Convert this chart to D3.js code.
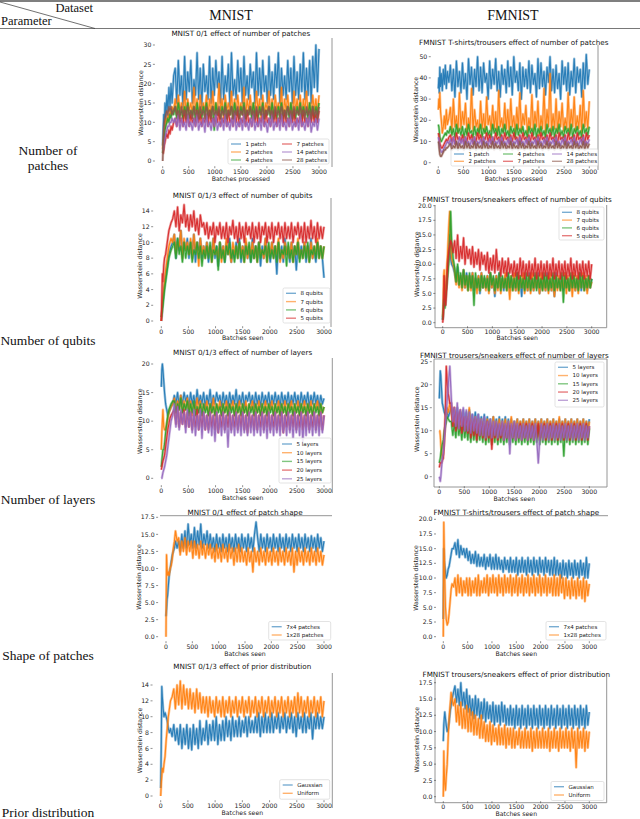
<!DOCTYPE html>
<html><head><meta charset="utf-8">
<script src="https://cdn.jsdelivr.net/npm/d3@7"></script>
<style>body{margin:0;background:#fff}svg{display:block}</style>
</head><body>
<svg id="c" width="640" height="819"></svg>
<script>
// ---------- DATA ----------
const batches = [0,10,20,30,45,60,80,100,120,140,160,180,210,
 240,270,300,330,360,390,420,450,480,510,
 540,570,600,630,660,690,720,750,780,810,
 840,870,900,930,960,990,1020,1050,1080,1110,
 1140,1170,1200,1230,1260,1290,1320,1350,1380,1410,
 1440,1470,1500,1530,1560,1590,1620,1650,1680,1710,
 1740,1770,1800,1830,1860,1890,1920,1950,1980,2010,
 2040,2070,2100,2130,2160,2190,2220,2250,2280,2310,
 2340,2370,2400,2430,2460,2490,2520,2550,2580,2610,
 2640,2670,2700,2730,2760,2790,2820,2850,2880,2910,
 2940,2970,3000];
const xTicks = [0,500,1000,1500,2000,2500,3000];
const datasets = ["MNIST","FMNIST"];
const parameters = [["Number of","patches"],["Number of qubits"],["Number of layers"],["Shape of patches"],["Prior distribution"]];
const titles = [
 "MNIST 0/1 effect of number of patches","FMNIST T-shirts/trousers effect of number of patches",
 "MNIST 0/1/3 effect of number of qubits","FMNIST trousers/sneakers effect of number of qubits",
 "MNIST 0/1/3 effect of number of layers","FMNIST trousers/sneakers effect of number of layers",
 "MNIST 0/1 effect of patch shape","FMNIST T-shirts/trousers effect of patch shape",
 "MNIST 0/1/3 effect of prior distribution","FMNIST trousers/sneakers effect of prior distribution"];
const xLabels = ["Batches processed","Batches processed","Batches seen","Batches seen","Batches seen","Batches seen","Batches seen","Batches seen","Batches seen","Batches seen"];
const yLabel = "Wasserstein distance";
const patchLabels = ["1 patch","2 patches","4 patches","7 patches","14 patches","28 patches"];
const qubitLabels = ["8 qubits","7 qubits","6 qubits","5 qubits"];
const layerLabels = ["5 layers","10 layers","15 layers","20 layers","25 layers"];
const shapeLabels = ["7x4 patches","1x28 patches"];
const priorLabels = ["Gaussian","Uniform"];
const yTicksA = [0,5,10,15,20,25,30];
const yTicksB = [0,10,20,30,40,50];
const yTicksC = [0,2,4,6,8,10,12,14];
const yTicksD = [0,2.5,5,7.5,10,12.5,15,17.5,20];
const yTicksE = [0,5,10,15,20];
const yTicksF = [0,5,10,15,20,25];
const yTicksG = [0,2.5,5,7.5,10,12.5,15,17.5];
const yTicksH = [0,2.5,5,7.5,10,12.5,15,17.5,20];
const yTicksI = [0,2,4,6,8,10,12,14];
const yTicksJ = [0,2.5,5,7.5,10,12.5,15,17.5];

// MNIST: number of patches
const mP1 = [4,8,12,9,15,11,17,13,19,14,20,15,22,
 24,15,26,17,22,14,27,16,23,18, 26,15,21,17,28,16,24,14,25,18, 22,16,27,15,24,17,26,19,23,15,
 27,16,22,18,25,14,28,17,21,16, 26,18,24,15,27,17,22,16,25,19, 23,15,28,17,24,16,26,18,22,15,
 27,17,23,16,25,19,28,15,24,17, 22,16,26,18,24,15,27,17,23,16, 25,18,28,16,24,17,26,15,27,19, 30,18,29];
const mP2 = [3,5,6,8,9,11,10,12,11,13,12,14,13,
 16,12,17,13,15,11,18,12,16,13, 15,12,19,13,16,11,17,12,15,13, 17,12,16,11,18,13,15,12,20,13,
 16,11,17,13,15,12,18,11,16,12, 17,13,15,12,19,11,16,13,17,12, 15,12,18,13,16,11,17,12,15,13,
 18,12,16,11,17,13,15,12,19,11, 16,13,17,12,15,11,18,13,16,12, 17,11,16,13,18,12,15,11,17,13, 16,12,17];
const mP4 = [2,3,5,6,8,9,10,11,10,12,11,13,12,
 14,11,15,12,13,11,14,12,15,11, 13,12,14,10,15,12,13,11,14,12, 15,11,13,12,14,8,15,12,13,11,
 14,12,15,11,13,12,14,11,15,12, 13,11,14,12,15,11,13,12,14,11, 15,12,13,11,14,12,15,11,13,12,
 14,11,15,12,13,11,14,12,15,11, 13,12,14,11,15,12,13,11,14,12, 15,11,14,12,13,11,15,12,14,11, 14,12,15];
const mP7 = [2,2,3,4,5,6,7,6,8,7,9,8,10,
 11,9,12,10,11,9,13,10,12,9, 12,10,11,9,13,10,12,9,11,10, 12,9,13,10,11,9,12,10,13,9,
 11,10,12,9,13,10,11,9,12,10, 13,9,11,10,12,9,13,10,11,9, 12,10,13,9,11,10,12,9,13,10,
 11,9,12,10,13,9,11,10,12,9, 13,10,11,9,12,10,13,9,11,10, 12,9,13,10,11,9,12,10,13,10, 12,10,13];
const mP14 = [3,3,4,5,6,7,8,9,9,10,10,11,10,
 11,9,12,8,11,9,10,8,12,9, 10,8,11,9,12,8,10,9,11,7.5, 12,9,10,8,11,9,12,8,10,9,
 11,8,12,9,10,8,11,9,12.5,8, 10,9,11,8,12,9,10,8,11,9, 12,8,10,9,11,8,12,9,10,7.5,
 11,9,12,8,10,9,11,8,12,9, 10,8,11,9,12,8,10,9,11,8, 12,9,10,8,11,9,12,7.5,10,9, 11,8,11];
const mP28 = [0,4,8,10,11,12,13,12,14,13,14,12,13,
 14,12,13,11,14,12,13,11,14,12, 13,11,14,12,13,11,14,12,13,11, 14,12,13,11,14,12,13,12,14,11,
 13,12,14,11,13,12,14,11,13,12, 14,11,13,12,14,11,13,12,14,12, 13,11,14,12,13,12,14,11,13,12,
 14,12,13,11,14,12,13,11,14,12, 13,11,14,12,13,11,14,12,13,12, 14,12,13,11,14,12,13,11,14,12, 13,11,14];
// FMNIST: number of patches
const fP1 = [35,40,33,45,36,42,34,44,37,46,35,43,38,
 46,34,44,31,48,36,43,33,47,35, 42,30,49,37,45,32,44,36,50,34, 45,33,47,38,42,30,48,35,44,37,
 49,34,43,31,46,37,44,33,48,36, 45,32,50,38,43,34,47,30,45,36, 44,35,48,33,46,37,42,31,49,35,
 47,36,43,32,45,38,50,34,44,33, 46,35,42,30,48,37,45,34,47,32, 43,36,49,33,45,38,44,31,47,35, 51,37,44];
const fP2 = [25,30,26,33,24,20,14,17,22,16,25,18,21,
 26,15,30,17,22,14,33,16,24,18, 28,14,21,16,35,15,25,17,20,13, 29,16,23,14,31,18,22,15,27,16,
 24,13,34,17,21,15,28,16,25,14, 30,17,22,14,26,16,33,15,23,18, 27,14,21,16,32,15,24,17,29,13,
 22,16,35,14,25,17,42,15,23,16, 30,14,24,17,28,15,21,16,33,14, 25,17,31,15,22,16,27,14,34,17, 24,16,29];
const fP4 = [18,17,15,12,11,10,11,12,13,14,13,15,14,
 17,13,16,12,18,14,16,13,17,12, 16,13,18,14,15,12,17,13,16,14, 18,12,16,14,17,13,15,12,18,14,
 16,13,17,12,16,14,18,13,15,12, 17,14,16,12,18,13,16,14,17,13, 15,12,17,14,16,13,18,12,16,14,
 17,13,15,12,18,14,16,13,17,12, 16,14,18,13,15,12,17,14,16,13, 18,12,16,14,17,13,15,12,18,14, 16,13,17];
const fP7 = [14,13,11,9,8,7,7,8,9,10,11,10,12,
 13,10,12,9,14,11,12,10,13,9, 12,10,14,11,13,9,12,10,14,11, 13,9,12,11,14,10,13,9,12,10,
 14,11,12,9,13,10,14,11,12,9, 13,10,14,11,12,9,13,10,14,11, 12,9,13,10,14,11,12,9,13,10,
 14,11,12,9,13,10,14,11,12,10, 13,9,14,11,12,10,13,9,14,11, 12,10,13,9,14,11,12,10,13,9, 14,11,13];
const fP14 = [12,11,9,7,6,5,5,6,7,8,9,10,9,
 11,8,12,9,10,8,12,9,11,8, 12,9,10,8,11,9,12,8,10,9, 11,8,12,9,10,8,11,9,12,8,
 10,9,11,8,12,9,10,8,11,9, 12,8,10,9,11,8,12,9,10,8, 11,9,12,8,10,9,11,8,12,9,
 10,8,11,9,12,8,10,9,11,8, 12,9,10,8,11,9,12,8,10,9, 11,8,12,9,10,8,11,9,12,8, 10,9,11];
const fP28 = [10,9,6,4,3,3,4,5,6,6,7,7,8,
 9,6,8,7,10,6,9,7,8,6, 10,7,9,6,8,7,10,6,9,7, 8,6,10,7,9,6,8,7,10,6,
 9,7,8,6,10,7,9,6,8,7, 10,6,9,7,8,6,10,7,9,6, 8,7,10,6,9,7,8,6,10,7,
 9,6,8,7,10,6,9,7,8,6, 10,7,9,6,8,7,10,6,9,7, 8,6,10,7,9,6,8,7,10,6, 9,7,9];
// MNIST: number of qubits
const mQ8 = [0,0.5,1.5,2.5,3.5,4.5,5.5,6.5,7.5,8.5,9,9.5,10,
 11,8,10.5,9,11.5,8.5,10,9,10.5,8, 10,8.5,11,7.5,10,9,10.5,8,9.5,8.5, 10,7.5,9.5,8.5,10.5,8,9.5,7,10,8.5,
 9.5,7.5,10,8.5,10.5,7.5,9,8,10,8.5, 10.5,7.5,9.5,8.5,10,8,9,7.5,10.5,8, 9.5,8.5,10,7,9.5,8,10.5,8.5,9,7.5,
 10,8.5,9.5,6,10,8,9.5,7.5,10.5,8.5, 9,7.5,10,8.5,9.5,6.5,10,8,9.5,8.5, 10,7.5,9.5,8.5,10.5,8,9,7.5,10,8.5, 9.5,8,5.5];
const mQ7 = [0,1,2,3,4,5,6.5,7.5,8.5,9.5,10,10.5,10,
 11,8.5,10,9.5,11.5,8,10.5,9,10,8.5, 10.5,8,11,9,10,7,10.5,8.5,9.5,8, 10,8.5,9.5,7.5,10.5,8.5,9,8,10,7.5,
 9.5,8,10.5,8.5,9,7.5,10,8.5,9.5,8, 10,8.5,9.5,7.5,10.5,8,9.5,8.5,10,8, 9.5,7.5,10,8.5,9,8,10.5,7.5,9.5,8.5,
 10,8,9.5,8.5,10.5,7.5,9,8,10,8.5, 9.5,8,10,7.5,9.5,8.5,10.5,8,9,8, 10,8.5,9.5,7.5,10,8,9.5,8.5,10.5,8, 9.5,8,9.5];
const mQ6 = [0.5,1,1.5,2,3,4,5,6,7,8,8.5,9,9.5,
 10,8,10.5,8.5,9.5,7.5,10,8,9.5,8.5, 10,7.5,9,8.5,10,8,9.5,7,9,8, 9.5,8,10,7.5,9,8.5,9.5,6.5,10,8,
 9,7.5,9.5,8.5,10,8,9,7.5,9.5,8, 10,8,9,7.5,9.5,8.5,10,7.5,9,8, 9.5,7.5,10,8,9,8.5,9.5,7.5,10,8,
 9,8,9.5,7.5,10,8,9,8.5,9.5,7, 10,8,9,7.5,9.5,8.5,10,7.5,9,8, 9.5,8,10,7.5,9,8.5,9.5,8,10,8, 9.5,8,9.5];
const mQ5 = [0,3,6,5,7,8,8.5,9.5,10.5,11.5,12,12.5,13,
 14,12,14.5,11.5,13.5,12.5,14.8,12,13.5,11.5, 13.5,12,14,11.5,13,11,13.5,12,12.5,11, 12.5,10.5,12,11,12.5,10,12,11,12.5,10.5,
 12,10.5,12.5,10,12,11,12.8,10.5,12,10, 12.5,10.5,12,10,12.5,11,12,10.5,12.5,10, 12,10.5,12.5,10,12,11,12.5,10,12,10.5,
 12.5,10,12,11,12.5,10.5,12,10,12.5,10.5, 12,10.5,12.5,10,12,11,12.5,10.5,12,10, 12.5,10,12,10.5,12.8,10.5,12,10,12.5,10.5, 12,10.5,12];
// FMNIST: number of qubits
const fQ8 = [0.5,2,4,6,3,5,7,9,12,15,11,10,9.5,
 8.5,7,9.5,6.5,8,7,9,6,8.5,6.5, 8,6,8.5,5.5,7.5,6,8,5,8.5,6, 7.5,6,8,5.5,8.5,6,7.5,4.5,8,6,
 8.5,6,7.5,5.5,8,6,8.5,5.5,7.5,6, 8,5.5,8.5,6,7.5,4.5,8,6,7.5,5.5, 8.5,6,7.5,5.5,8,6,8.5,5,7.5,6,
 8,5.5,8.5,6,7.5,5.5,8,4.5,8.5,6, 7.5,6,8,5.5,8.5,6,7.5,5.5,8,6, 8,5.5,7.5,6,8.5,5.5,8,6,7.5,5.5, 8,6,7.5];
const fQ7 = [1,3,8,9,4,6,9,12,16,19,13,11,10,
 9,6.5,8.5,6,8,5.5,9,6,8,5.5, 8,5.5,8.5,6,7.5,5,8,5.5,8.5,6, 7.5,5.5,8,5,8.5,6,7.5,5,8,5.5,
 8,5,7.5,6,8.5,5.5,7.5,4,8,5.5, 8.5,5.5,7.5,5,8,6,8.5,5,7.5,5.5, 8,5,8.5,5.5,7.5,6,8,5,8.5,5.5,
 7.5,5.5,8,5,8.5,5.5,7.5,4.5,8,5.5, 8,5.5,7.5,6,8.5,5,8,5.5,7.5,4.5, 8.5,5.5,8,5,7.5,6,8.5,5.5,8,5, 8,6,7];
const fQ6 = [0.5,1.5,3,4,2.5,4,6,8,10,13,19,14,11,
 9.5,7,10,6.5,8.5,6,9,6.5,8,5.5, 8.5,6,8,3,8.5,6,7.5,5.5,8,6, 8,6,7.5,5.5,8.5,6.5,8,5.5,7.5,6,
 8.5,5.5,8,6,7.5,5.5,8.5,6,8,5.5, 7.5,6,8.5,5.5,8,6,7.5,5.5,8.5,6, 8,5.5,7.5,6,8.5,5.5,8,6,7.5,5.5,
 8.5,6,8,5.5,7.5,6,8.5,5.5,8,6, 7.5,5.5,8.5,3.5,8,6,7.5,5.5,8.5,6, 8,6,7.5,5.5,8.5,6,8,5.5,7.5,6, 8,6,7.5];
const fQ5 = [0,1,3,8,4,3,6,10,12,13,14,13.5,12,
 14,11,15,10.5,13,11,14.5,10,13,11, 12.5,10,13,9.5,12,10,12.5,9,12,10, 11.5,9,12,8.5,11,9,11.5,8.5,12.5,9,
 10.5,8,11,8.5,10.5,8,11,8.5,10,8, 10.5,8,10,7.5,11,8,10.5,7.5,10,8, 10.5,7.5,10,8,11,7.5,10,8,10.5,7.5,
 10,8,10.5,7.5,10,8,11,7.5,10,8, 10.5,7.5,10,8,10.5,7.5,10,8,11,7.5, 10,8,10.5,7.5,10,8,10.5,7.5,10,8, 10.5,7.5,10];
// MNIST: number of layers
const mL5 = [16,19,20,19,17,15,13,12,11,11.5,12,12.5,13,
 14.5,13,15,12.5,14.5,13,15,13.5,14.5,12.5, 15,13,14.5,12.5,15.5,13,14.5,13,15,12.5, 14.5,13,15.5,12.5,14.5,13,15,13.5,14.5,12.5,
 15,13,14.5,12.5,15,13,14.5,13,15.5,12.5, 14.5,13,15,12.5,14.5,13.5,15,13,14.5,12.5, 15,13,14.5,12.5,15,13,14.5,13,15,12.5,
 14.5,13,15,13,14.5,12.5,15,13,14.5,13, 15,12.5,14.5,13,15,13,14.5,12.5,15,13, 14.5,13,15,12.5,14.5,13,15,13,14.5,12.5, 14.5,13,14];
const mL10 = [5,8,10,12,9,8.5,8.5,9.5,10.5,11.5,12,12.5,13,
 14,11.5,13.5,12,14.5,11.5,13.5,12,14,11.5, 13.5,11,13,12,14,11.5,13.5,11,13,12, 13.5,11,13,11.5,14,11,13,12,13.5,11,
 13,11.5,13.5,11,13,12,13.5,11,13,11.5, 13.5,11,13,11.5,13.5,11,13,12,13.5,11, 13,11.5,13.5,11,13,11.5,13.5,11,13,12,
 13.5,11,13,11.5,13.5,11,13,11.5,13.5,11, 13,12,13.5,11,13,11.5,13.5,11,13,11.5, 13.5,11,13,11.5,13.5,11,13,12,13.5,11, 13,11.5,12.5];
const mL15 = [2,3,4,5,5,6,8,9.5,11,12,12.5,13,13.5,
 13.5,11.5,13,12,14,11.5,13,12,13.5,11, 13,11.5,13.5,11,12.5,11.5,13,11,13,11.5, 12.5,11,13,11.5,12.5,11,13,11.5,12.5,11,
 13,11.5,12.5,11,13,11.5,12.5,11,13,11.5, 12.5,11,13,11.5,12.5,11,13,11.5,12.5,11, 13,11.5,12.5,11,13,11.5,12.5,11,13,11.5,
 12.5,11,13,11.5,12.5,11,13,11.5,12.5,11, 13,11.5,12.5,11,13,11.5,12.5,11,13,11.5, 12.5,11,13,11.5,12.5,11,13,11.5,12.5,11, 13,11.5,12.5];
const mL20 = [1.5,2,2.5,3,3.5,4,5.5,7,8.5,9.5,10.5,11,11.5,
 12,9.5,12.5,9,11.5,9.5,12,9,11.5,9, 11.5,8.5,11,9,12,8.5,11,9,11.5,8.5, 11,8.5,11.5,9,11,8.5,11.5,8,11,9,
 11.5,8.5,11,9,11.5,8.5,11,9,11.5,8.5, 11,9,11.5,8.5,11,8,11.5,9,11,8.5, 11.5,8.5,11,9,11.5,8.5,11,9,11.5,8.5,
 11,9,11.5,8.5,11,9,11.5,8,11,9, 11.5,8.5,11,9,11.5,8.5,11,9,11.5,8.5, 11,9,11.5,8.5,11,9,11.5,8.5,11,9, 11.5,8.5,11];
const mL25 = [0,0,0.5,1,1.5,2,3,4,5.5,7,8.5,10,11,
 13,9,12.5,8.5,12,9.5,11.5,8,12,9, 11.5,8,12,7.5,11,8.5,12,7,11.5,8.5, 11,8,11.5,7.5,11,6.5,11.5,8,11,7.5,
 11.5,8,11,5.5,11.5,8,11,7.5,11.5,8, 11,7.5,11.5,8,11,7.5,11.5,8,11,7.5, 11.5,8,11,7.5,11.5,8,11,7,11.5,8,
 11,7.5,11.5,8,11,7.5,11.5,8,11,7.5, 11.5,8,11,7,11.5,8,11,7.5,11.5,6.5, 11,7.5,11.5,8,11,7.5,11.5,8,11,7.5, 11.5,8,11];
// FMNIST: number of layers
const fL5 = [17,20,23,22,19,16,15,14,13.5,13,14,13,14,
 15,12,14.5,12,15,11.5,14,12,14.5,11.5, 14,11.5,14.5,11,13.5,11.5,14,11,13.5,11, 13,10.5,13.5,10,13,10.5,12.5,10,13,10.5,
 12.5,10,13,9.5,12.5,10,13,9.5,12.5,10, 12.5,9.5,12,10,12.5,9.5,12,10,12.5,9.5, 12,10,12.5,9.5,12,10,12.5,9.5,12,10,
 12.5,9.5,12,10,12.5,9.5,12,10,12.5,9.5, 12,10,12.5,9.5,12,10,12.5,9.5,12,10, 12.5,9.5,12,10,12.5,9.5,12,10,12.5,9.5, 12,10,12.5];
const fL10 = [10,10,9,7,5,4,5,8,11,13,15,14,16,
 14,11,15,10.5,13.5,11,14,10,13,10.5, 13,10,15,9.5,12.5,10,13,9.5,12.5,9, 12.5,9,12,9.5,12.5,9,12,9,13,9.5,
 12,9,12.5,8.5,12,9,12.5,8.5,12,9, 13,8.5,12,9,12.5,8.5,12,9,12.5,8.5, 12,9,12.5,8.5,12,9,12.5,8.5,12,9,
 12.5,8.5,12,9,12.5,8.5,12,9,12.5,8.5, 12,9,13,8.5,12,9,12.5,8.5,12,9, 12.5,8.5,12,9,12.5,8.5,12,9,12.5,8.5, 12,9,12];
const fL15 = [3,3.5,4,5,6,7,8,10,11,12,13,12.5,12,
 12,9,11.5,8.5,12,9,11,8,11.5,8.5, 11,8,11.5,7.5,11,8,10.5,7.5,11,8, 10.5,7.5,11,7,10.5,7.5,11,7,10.5,7.5,
 11,7,10.5,7.5,11,7,10.5,7.5,11,7, 10.5,7.5,11,7,10.5,7.5,11,7,10.5,7.5, 11,7,10.5,7.5,11,7,10.5,7.5,11,7,
 10.5,7.5,11,7,10.5,7.5,11,7,10.5,7.5, 11,7,10.5,7.5,11,4.5,10.5,7.5,11,7, 10.5,7.5,11,7,10.5,7.5,11,7,10.5,7.5, 11,7,10.5];
const fL20 = [2,2.5,3,3,3,3.5,4,8,14,24,20,18,16,
 16,11,15,10,14,10.5,14.5,9.5,13,10, 13,9.5,12.5,8.5,12,9,12.5,8,11.5,9, 12,8.5,11.5,8,12,8.5,11.5,6,11,8.5,
 11.5,8,11,8.5,11.5,8,11,8.5,11.5,8, 11,8.5,11.5,8,11,8.5,11.5,8,11,8.5, 11.5,8,11,8.5,11.5,8,11,8.5,11.5,8,
 11,8.5,11.5,8,11,8.5,11.5,8,11,8.5, 11.5,8,11,8.5,11.5,8,11,8.5,11.5,8, 11,8.5,11.5,8,11,8.5,11.5,8,11,8.5, 11.5,8,11];
const fL25 = [0,-0.5,-1,0,2,4,5,8,11,14,17,20,24,
 17,12,15,11,16,10.5,14.5,11,15,10, 14.5,10,14,9.5,13.5,10,13,9.5,13.5,9, 12.5,9,13,8.5,12,9,12.5,8.5,12,9,
 12,8.5,11.5,9,12,8,11.5,8.5,12,5, 11.5,8.5,12,8,11.5,8.5,11,8,11.5,8.5, 11,8,11.5,8.5,11,8,11.5,8,3,8.5,
 11.5,8,11,8.5,11.5,8,11,8.5,11.5,8, 11,8.5,11.5,8,11,8.5,11.5,8,11,8.5, 11.5,8,11,8.5,11.5,8,11,8.5,11.5,8, 11,8.5,11];
// MNIST: patch shape
const mS74 = [3,4,5.5,6,7.5,9,10,11,12,12.5,13,14,13,
 14,12.5,15,13,15.5,13,16.5,13.5,15,13, 16,13,15.5,13.5,16.5,13,15,13.5,15.5,13, 15,13,14.5,12.5,15,13,14.5,12.5,15,13,
 14.5,12.5,15,13,14.5,12.5,15,13,14.5,12.5, 15,13,14.5,12.5,15,13,14.5,12.5,15,16.8, 14.5,12.5,15,13,14.5,12.5,15,13,14.5,12.5,
 15,13,14.5,12.5,15,13,14.5,12.5,15,13, 14.5,12.5,15,13,14.5,12.5,15,13,14.5,12.5, 15,13,14.5,12.5,14.8,13,14.5,12.5,15,13, 14.5,12.5,14];
const mS128 = [0,12,10,9,9.5,9,10,10.5,11.5,13,14,15.5,14,
 14.5,12,14,12.5,14.5,12,14,12.5,14,11.5, 14,12,13.5,11.5,14,12,13.5,11.5,13.5,12, 13.5,11.5,13,11,13.5,11.5,13,11,13.5,11.5,
 13,11,13.5,11.5,13,10.5,13,11,13.5,11, 13,11,12.5,10.5,13,11,12.5,9.5,13,11, 12.5,10.5,13,11,12.5,10.5,13,11,12.5,10.5,
 13,11,12.5,10.5,13,11,12.5,10.5,13,11, 12.5,10.5,13,9.5,12.5,10.5,13,11,12.5,10.5, 13,11,12.5,10.5,13,11,12.5,10.5,13,11, 12.5,10.5,12];
// FMNIST: patch shape
const fS74 = [3,15,13,12,11,10,10.5,11.5,12,13,14,15,15,
 16,14,16.5,13.5,15.5,14,15,13.5,15,13, 14.5,12.5,14,12.5,14.5,12,14,12,13.5,12, 14,11.5,13.5,12,14,11.5,13.5,11.5,14,11.5,
 13.5,11.5,13,11,13.5,11.5,13,11,13.5,11, 13,11,13.5,10.5,13,11,13.5,11,13,10.5, 13.5,11,13,10.5,13.5,11,13,10.5,13.5,11,
 13,10.5,13.5,11,13,10.5,13,10.5,13.5,10.5, 13,10.5,12.5,10,13,10.5,12.5,10,13,10.5, 12.5,10,13,10.5,12.5,10,13,10.5,12.5,10, 13.5,10,12.5];
const fS128 = [0,19.5,15,10,5,3,2,2.5,4,6,8,9,8.5,
 10,7,10.5,7.5,10,7,9.5,7.5,10,7, 10,7,9.5,7.5,10,7,10.5,7,9.5,7.5, 10,7.5,10.5,7,10,7.5,10.5,7.5,10,7,
 10.5,7.5,10,7,10.5,7.5,10,7.5,10.5,7, 10,7.5,10.5,7,10,7.5,10.5,7,10,7.5, 10.5,7,10,7.5,10.5,7,10,7.5,10.5,7,
 10,7.5,10.5,7,10,7.5,10,7,10.5,7, 10,7,10.5,7.5,10,6.5,10,7,9.5,6.5, 10,7,9.5,6.5,10,7,9.5,6.5,10,6, 9.5,7,9];
// MNIST: prior distribution
const mGau = [1,6,13.8,12.5,11,10,10.5,10,9.5,8.5,8,8.5,7.5,
 9,7,8.5,6.5,9,6,8.5,6.5,9,6, 8.5,5.8,9,6.5,8.5,6,9.5,6.5,8.5,7, 9.5,6.5,9,7,9.5,7,10,6.5,9,7,
 9.5,7,10,7.5,9.5,7,10,7.5,9.5,7.5, 10,7.5,9.5,8,10,7.5,10,8,9.5,8, 10,8,10.5,7.5,10,8,10.5,8,10,8,
 10.5,8,10,8.5,10.5,8,10,8.5,10.5,8, 10,8.5,10.5,8,10,7.5,10.5,8.5,10,8, 10.5,8,10,8.5,10.5,7.2,10,8.5,10.5,8.5, 10,8.5,10];
const mUni = [0,1.5,2.5,3.5,3,4,5,7,8.5,10,11,12,12.5,
 13.5,11,14,11.5,14.5,11,14,11.5,13.5,11, 13.5,11,13,10.5,13.5,11,13,10.5,12.5,10.5, 12.5,10,12.5,10.5,12,10,12.5,10.5,12,10,
 12.5,10,12,10.5,12.5,10,12,10.5,12.5,10, 12,10.5,12.5,10,12,10.5,12.5,10,12,10.5, 12.5,10,12,10.5,12.5,10,12,10.5,12.5,10,
 12,10.5,12.5,10,12,10.5,12.5,10,12,10.5, 12.5,10,12,10.5,12.5,10,13,10.5,12.5,10, 12,10.5,12.5,10,12,10.5,12.5,10,12,10.5, 12.5,10,12];
// FMNIST: prior distribution
const fGau = [8.5,11,12,13,12,11,10,10.5,11.5,13,14,15,16,
 17,14.5,16.5,14,17.5,14,16,13.5,16.5,13, 15.5,12.5,15,12,15.5,12.5,15,12,14.5,12, 15,11.5,14.5,12,14,11.5,14.5,11,14,11.5,
 14,11,14.5,11.5,14,11,13.5,11,14,11, 13.5,10.5,14,11,13.5,10.5,14,11,13.5,10.5, 14,11,13.5,10.5,14,11,13.5,10.5,14,11,
 13.5,10.5,14,11,13.5,10.5,14,11,13.5,10.5, 14,11,13.5,10.5,14,11,13.5,10.5,14,11, 13.5,10.5,14,11,13.5,10.5,14,11,13.5,10.5, 14,11,13];
const fUni = [0,7,4,2,1,3,5,9,12,14,16,15,14,
 15,11.5,14,11,14.5,10.5,13.5,10.5,14,10, 13.5,10,13,9.5,12.5,9.5,12,9,12.5,9, 11.5,8.5,11,8.5,11.5,8,11,8.5,10.5,8,
 11,8,10.5,8,11,7.5,10.5,8,10.5,7.5, 10.5,7.5,10,8,10.5,7.5,10,7.5,10.5,7.5, 10,7.5,10.5,7,10,7.5,10.5,7.5,10,7.5,
 10.5,7.5,10,7.5,10.5,7,10,7.5,10.5,7.5, 10,7,10.5,7.5,10,7.5,10.5,7.5,10,7, 10.5,7.5,10,4.5,10.5,7.5,10,7.5,10.5,7, 10,7.5,10];

const tab10 = ["#1f77b4","#ff7f0e","#2ca02c","#d62728","#9467bd","#8c564b"];

// ---------- LAYOUT ----------
const panels = [
 {series:[mP1,mP2,mP4,mP7,mP14,mP28], labels:patchLabels, yTicks:yTicksA, fmt:"d",
  L:{x0:162.7,x1:319,yb:161,yt:45,titleY:33,tickY:171.7,xlabY:179,ylabX:140.7,
     frame:[[332,38,332,167]], leg:{x:228,y:139,w:101,h:25,cols:2,colW:51,rowH:8,first:5}}},
 {series:[fP1,fP2,fP4,fP7,fP14,fP28], labels:patchLabels, yTicks:yTicksB, fmt:"d",
  L:{x0:438.3,x1:589.3,yb:162.7,yt:56.7,titleY:42,tickY:171.7,xlabY:179,ylabX:416,
     frame:[[598,45,598,170]], leg:{x:451,y:149,w:147,h:17,cols:3,colW:49,rowH:7.3,first:5}}},
 {series:[mQ8,mQ7,mQ6,mQ5], labels:qubitLabels, yTicks:yTicksC, fmt:"d",
  L:{x0:161.3,x1:324,yb:321,yt:211,titleY:195,tickY:331.7,xlabY:338.3,ylabX:140,
     frame:[[331,198,331,327]], leg:{x:283,y:288,w:47,h:35,cols:1,colW:47,rowH:8.3,first:5.3}}},
 {series:[fQ8,fQ7,fQ6,fQ5], labels:qubitLabels, yTicks:yTicksD, fmt:".1f",
  L:{x0:442.7,x1:591.7,yb:322.7,yt:205.7,titleY:199,tickY:331.7,xlabY:338.3,ylabX:416.7,
     frame:[[435,205,435,327.7],[435,327.7,606.7,327.7],[606.7,205,606.7,327.7]], leg:{x:559,y:207,w:45,h:33,cols:1,colW:45,rowH:7.8,first:5.3}}},
 {series:[mL5,mL10,mL15,mL20,mL25], labels:layerLabels, yTicks:yTicksE, fmt:"d",
  L:{x0:161.3,x1:324,yb:478.3,yt:364,titleY:352.3,tickY:490.7,xlabY:498.3,ylabX:140,
     frame:[[332.3,358,332.3,493]], leg:{x:279,y:438,w:52,h:45,cols:1,colW:52,rowH:8.7,first:6}}},
 {series:[fL5,fL10,fL15,fL20,fL25], labels:layerLabels, yTicks:yTicksF, fmt:"d",
  L:{x0:439.3,x1:589.3,yb:476.7,yt:361.7,titleY:355,tickY:491.7,xlabY:499,ylabX:416.7,
     frame:[[434,359,607,359],[607,359,607,487],[434,487,607,487],[434,359,434,487]], leg:{x:555,y:362,w:49,h:45,cols:1,colW:49,rowH:8.25,first:5.3}}},
 {series:[mS74,mS128], labels:shapeLabels, yTicks:yTicksG, fmt:".1f",
  L:{x0:166,x1:324,yb:636.7,yt:517.3,titleY:512.7,tickY:646.7,xlabY:654,ylabX:139.3,
     frame:[[160,515.7,332,515.7]], leg:{x:268.7,y:621.5,w:62,h:18.5,cols:1,colW:62,rowH:8.3,first:5.2}}},
 {series:[fS74,fS128], labels:shapeLabels, yTicks:yTicksH, fmt:".1f",
  L:{x0:443.3,x1:589.3,yb:636.7,yt:519.3,titleY:512.7,tickY:646.7,xlabY:654,ylabX:416,
     frame:[[443,515.7,608,515.7]], leg:{x:546,y:621.5,w:60,h:18.5,cols:1,colW:60,rowH:8.3,first:5.2}}},
 {series:[mGau,mUni], labels:priorLabels, yTicks:yTicksI, fmt:"d",
  L:{x0:160.7,x1:324,yb:796,yt:685,titleY:666.7,tickY:805.7,xlabY:813.3,ylabX:140,
     frame:[[332.3,673,332.3,808]], leg:{x:279.7,y:779.7,w:50,h:19.5,cols:1,colW:50,rowH:8.3,first:5.3}}},
 {series:[fGau,fUni], labels:priorLabels, yTicks:yTicksJ, fmt:".1f",
  L:{x0:443.3,x1:589.3,yb:796.7,yt:682.7,titleY:674,tickY:806.7,xlabY:814,ylabX:416.7,
     frame:[[435,677,435,802.7],[435,802.7,606.7,802.7],[606.7,677,606.7,802.7]], leg:{x:551,y:781.5,w:53,h:19,cols:1,colW:53,rowH:8.3,first:5.2}}}
];

const svg = d3.select("#c");
const SANS = "DejaVu Sans, sans-serif";
const SERIF = "Liberation Serif, DejaVu Serif, serif";

// ---------- TABLE ----------
svg.append("line").attr("x1",0).attr("x2",640).attr("y1",1).attr("y2",1).attr("stroke","#555").attr("stroke-width",1.6);
svg.append("line").attr("x1",0).attr("x2",640).attr("y1",28.5).attr("y2",28.5).attr("stroke","#555").attr("stroke-width",0.8);
svg.append("line").attr("x1",0).attr("y1",2).attr("x2",95).attr("y2",28.5).attr("stroke","#333").attr("stroke-width",0.7);
svg.append("text").attr("x",93).attr("y",12).attr("text-anchor","end").attr("font-family",SERIF).attr("font-size",12.5).attr("fill","#111").text("Dataset");
svg.append("text").attr("x",1).attr("y",25).attr("font-family",SERIF).attr("font-size",12.5).attr("fill","#111").text("Parameter");
const headX = [231,513];
datasets.forEach((d,i)=>svg.append("text").attr("x",headX[i]).attr("y",20).attr("text-anchor","middle")
  .attr("font-family",SERIF).attr("font-size",14).attr("fill","#111").text(d));
const rowY = [170,345,503.5,659.5,816.5];
parameters.forEach((lines,i)=>{
  lines.forEach((t,j)=>{
    svg.append("text").attr("x",48).attr("y",rowY[i] - (lines.length-1-j)*15.5)
      .attr("text-anchor","middle").attr("font-family",SERIF).attr("font-size",13.5).attr("fill","#111").text(t);
  });
});

// ---------- PANELS ----------
panels.forEach((p,pi)=>{
  const L = p.L;
  const top = p.yTicks[p.yTicks.length-1];
  const x = d3.scaleLinear().domain([0,3000]).range([L.x0,L.x1]);
  const y = d3.scaleLinear().domain([0,top]).range([L.yb,L.yt]);
  const g = svg.append("g");
  const axL = x(-150);
  const axB = L.tickY - 5.5;
  const fmt = d3.format(p.fmt);
  L.frame.forEach(f=>g.append("line").attr("x1",f[0]).attr("y1",f[1]).attr("x2",f[2]).attr("y2",f[3])
    .attr("stroke","#8a8a8a").attr("stroke-width",0.9));
  const line = d3.line().x(d=>x(d[0])).y(d=>y(d[1]));
  p.series.forEach((vals,si)=>{
    const data = vals.map((v,i)=>[batches[i],v]).filter(d=>d[0]!==undefined);
    g.append("path").datum(data).attr("d",line).attr("fill","none")
      .attr("stroke",tab10[si]).attr("stroke-width",2.5).attr("stroke-opacity",0.45).attr("stroke-linejoin","round");
    g.append("path").datum(data).attr("d",line).attr("fill","none")
      .attr("stroke",tab10[si]).attr("stroke-width",1.1).attr("stroke-opacity",0.92).attr("stroke-linejoin","round");
  });
  p.yTicks.forEach(t=>{
    g.append("line").attr("x1",axL-2).attr("x2",axL).attr("y1",y(t)).attr("y2",y(t)).attr("stroke","#444").attr("stroke-width",0.6);
    g.append("text").attr("x",axL-3.5).attr("y",y(t)).attr("dy","0.35em").attr("text-anchor","end")
      .attr("font-family",SANS).attr("font-size",6.2).attr("fill","#222").text(fmt(t));
  });
  xTicks.forEach(t=>{
    g.append("line").attr("x1",x(t)).attr("x2",x(t)).attr("y1",axB).attr("y2",axB+2).attr("stroke","#444").attr("stroke-width",0.6);
    g.append("text").attr("x",x(t)).attr("y",L.tickY).attr("dy","0.35em").attr("text-anchor","middle")
      .attr("font-family",SANS).attr("font-size",6.2).attr("fill","#222").text(t);
  });
  const cx = (L.x0+L.x1)/2;
  g.append("text").attr("x",cx).attr("y",L.xlabY).attr("dy","0.35em").attr("text-anchor","middle")
    .attr("font-family",SANS).attr("font-size",6.2).attr("fill","#222").text(xLabels[pi]);
  g.append("text").attr("x",cx).attr("y",L.titleY).attr("dy","0.35em").attr("text-anchor","middle")
    .attr("font-family",SANS).attr("font-size",7.2).attr("fill","#111").text(titles[pi]);
  const cy = (y(-top*0.05)+y(top*1.05))/2;
  g.append("text").attr("transform",`translate(${L.ylabX},${cy}) rotate(-90)`).attr("dy","0.35em").attr("text-anchor","middle")
    .attr("font-family",SANS).attr("font-size",6.2).attr("fill","#222").text(yLabel);
  const lg = L.leg;
  g.append("rect").attr("x",lg.x).attr("y",lg.y).attr("width",lg.w).attr("height",lg.h).attr("rx",1.5)
    .attr("fill","#fff").attr("fill-opacity",0.85).attr("stroke","#d0d0d0").attr("stroke-width",0.6);
  const rows = Math.ceil(p.labels.length/lg.cols);
  p.labels.forEach((lab,i)=>{
    const c = Math.floor(i/rows), r = i%rows;
    const lx = lg.x + 3 + c*lg.colW, ly = lg.y + lg.first + r*lg.rowH;
    g.append("line").attr("x1",lx).attr("x2",lx+10).attr("y1",ly).attr("y2",ly)
      .attr("stroke",tab10[i]).attr("stroke-width",1.4).attr("stroke-opacity",0.6);
    g.append("text").attr("x",lx+14.5).attr("y",ly).attr("dy","0.35em")
      .attr("font-family",SANS).attr("font-size",5.5).attr("fill","#222").text(lab);
  });
});
</script>
</body></html>
